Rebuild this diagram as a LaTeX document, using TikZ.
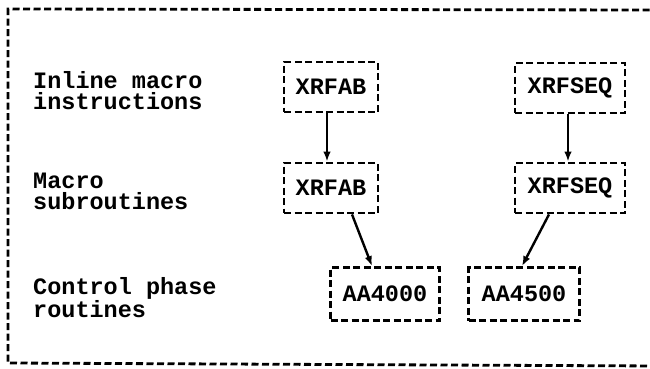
\documentclass[tikz,border=0pt]{standalone}
\usepackage{fontspec}
\setmonofont{Liberation Mono}
\usetikzlibrary{arrows.meta}
\begin{document}
\begin{tikzpicture}[x=1pt,y=-1pt,
  dashline/.style={line width=2.8pt, dash pattern=on 7pt off 3.5pt},
  tw/.style={font=\ttfamily\bfseries\fontsize{23.5}{21}\selectfont},
  tbox/.style={draw, dashline, tw, inner sep=0pt, minimum height=50pt},
  lbl/.style={tw, anchor=base west, align=left, inner sep=0pt},
  arr/.style={line width=2.4pt, -{Latex[length=10pt,width=7.5pt]}}
]
\useasboundingbox (0,0) rectangle (650,368);
% outer frame (right side runs off the page)
\coordinate (fTR) at (660,10);
\coordinate (fTL) at (8,9);
\coordinate (fBL) at (8,363);
\coordinate (fBR) at (660,366);
\draw[dashline] (fTR) -- (fTL) -- (fBL) -- (fBR);
% labels (anchor = baseline of the last line)
\node[lbl] (l1) at (33,109) {Inline macro\\instructions};
\node[lbl] (l2) at (33,209) {Macro\\subroutines};
\node[lbl] (l3) at (33,317) {Control phase\\routines};
% boxes
\node[tbox, minimum width=94pt]  (a1) at (331,87)  {XRFAB};
\node[tbox, minimum width=110pt] (b1) at (570,88)  {XRFSEQ};
\node[tbox, minimum width=94pt]  (a2) at (331,188) {XRFAB};
\node[tbox, minimum width=110pt] (b2) at (570,188) {XRFSEQ};
\node[tbox, minimum width=109pt, minimum height=53pt] (c1) at (385,294) {AA4000};
\node[tbox, minimum width=111pt, minimum height=53pt] (c2) at (524,294) {AA4500};
% arrows
\draw[arr] ([xshift=-4pt]a1.south) -- ([xshift=-4pt]a2.north);
\draw[arr] ([xshift=-2pt]b1.south) -- ([xshift=-2pt]b2.north);
\draw[arr] ([xshift=21pt]a2.south) -- ([xshift=-13pt]c1.north);
\draw[arr] ([xshift=-21pt]b2.south) -- ([xshift=-2pt]c2.north);
\end{tikzpicture}
\end{document}
